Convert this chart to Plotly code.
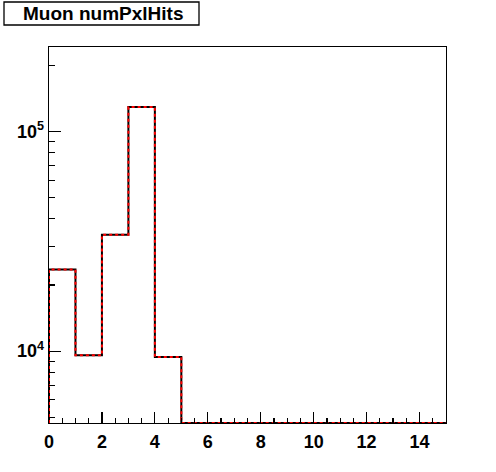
import plotly.graph_objects as go

# Data: Muon numPxlHits histogram (bin low edges 0..14, width 1)
bin_edges = list(range(0, 16))
counts = [23500, 9570, 33900, 129000, 9410, 0, 0, 0, 0, 0, 0, 0, 0, 0, 0]
title_text = "Muon numPxlHits"
y_tickvals = [1e4, 1e5]
y_ticktext = ["10<sup>4</sup>", "10<sup>5</sup>"]
y_minor = [5e3, 6e3, 7e3, 8e3, 9e3, 2e4, 3e4, 4e4, 5e4, 6e4, 7e4, 8e4, 9e4, 2e5]
x_range = [0, 15]
y_log_range = [3.673, 5.384]

floor = 10 ** y_log_range[0]
ys = [max(c, floor) for c in counts]
xs = [bin_edges[0]] + bin_edges
ys_full = [floor] + ys + [ys[-1]]

fig = go.Figure()
fig.add_trace(go.Scatter(x=xs, y=ys_full, mode="lines", line=dict(shape="hv", color="black", width=2),
                         showlegend=False, hoverinfo="skip"))
fig.add_trace(go.Scatter(x=xs, y=ys_full, mode="lines",
                         line=dict(shape="hv", color="red", width=2, dash="3px,3px"),
                         showlegend=False, hoverinfo="skip"))

L, R, T, B = 49, 50, 47, 49
W, H = 496, 472
pw, ph = W - L - R, H - T - B

def px2paper_x(p):
    return (p - L) / pw

def px2paper_y(p):
    return (H - B - p) / ph

fig.add_shape(type="rect", xref="paper", yref="paper",
              x0=px2paper_x(4), x1=px2paper_x(199), y0=px2paper_y(25), y1=px2paper_y(2),
              line=dict(color="black", width=1.3), fillcolor="white", layer="above")
fig.add_annotation(text=title_text, xref="paper", yref="paper", showarrow=False,
                   x=px2paper_x(102.5), y=px2paper_y(14), xanchor="center", yanchor="middle",
                   font=dict(family="Liberation Sans", size=19, color="black", weight="bold"))

tickfont = dict(family="Liberation Sans", size=18, color="black", weight="bold")
fig.update_xaxes(range=x_range, showline=True, linecolor="black", linewidth=1.3, mirror=True,
                 showgrid=False, zeroline=False, ticks="inside", ticklen=11, tickcolor="black",
                 tickwidth=1.2, dtick=2, tick0=0, tickfont=tickfont, ticklabelstandoff=2,
                 minor=dict(ticks="inside", ticklen=5, dtick=0.5, tickcolor="black", tickwidth=1.2, showgrid=False))
fig.update_yaxes(type="log", range=y_log_range, showline=True, linecolor="black", linewidth=1.3, mirror=True,
                 showgrid=False, zeroline=False, ticks="inside", ticklen=12, tickcolor="black", tickwidth=1.2,
                 tickmode="array", tickvals=y_tickvals, ticktext=y_ticktext, tickfont=tickfont,
                 minor=dict(ticks="inside", ticklen=6, tickmode="array", tickvals=y_minor,
                            tickcolor="black", tickwidth=1.2, showgrid=False))
fig.update_layout(width=W, height=H, margin=dict(l=L, r=R, t=T, b=B, autoexpand=False),
                  paper_bgcolor="white", plot_bgcolor="white")
fig.write_html("out.html", config={"displayModeBar": False, "staticPlot": True},
               post_script="document.body.style.margin='0';document.body.style.padding='0';")
